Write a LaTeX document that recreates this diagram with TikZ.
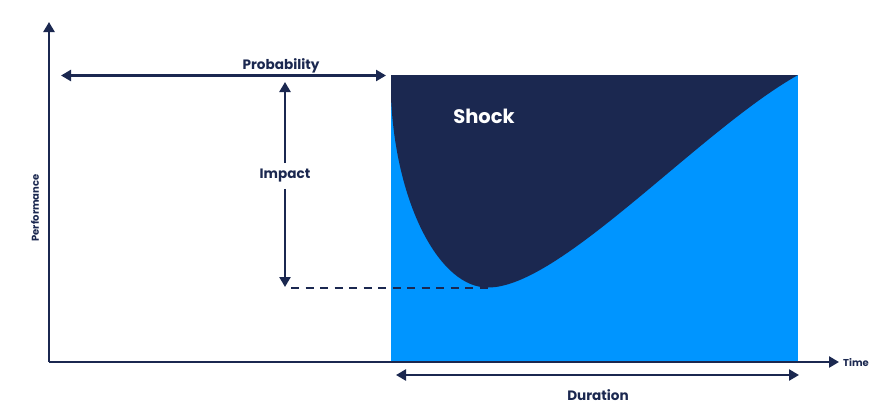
\documentclass[tikz,border=0pt]{standalone}
\usepackage{fontspec}
\setmainfont{Poppins}
\usetikzlibrary{arrows.meta}
\definecolor{navy}{RGB}{27,40,80}
\definecolor{skyblue}{RGB}{0,149,255}
\tikzset{
  axisline/.style={draw=navy, line width=2.6pt, -{Triangle[length=10pt,width=11pt]}},
  dimline/.style={draw=navy, line width=2.4pt, -{Triangle[length=10pt,width=11pt]}},
  dimboth/.style={draw=navy, line width=2.4pt, {Triangle[length=10pt,width=11pt]}-{Triangle[length=10pt,width=11pt]}},
  lbl/.style={text=navy, font=\bfseries\fontsize{13.6}{16}\selectfont, inner sep=0pt},
  smalllbl/.style={text=navy, font=\bfseries\fontsize{10}{12}\selectfont, inner sep=0pt},
}
\begin{document}
\begin{tikzpicture}[x=1pt,y=-1pt]
\useasboundingbox (0,0) rectangle (892,418);
% named points
\coordinate (origin) at (49,362);
\coordinate (ytop) at (49,22);
\coordinate (xend) at (839,362);
\coordinate (pl) at (61,75.5);
\coordinate (pr) at (386,75.5);
\coordinate (imptop) at (285,82);
\coordinate (impbot) at (285,287);
\coordinate (dashstart) at (291,287.5);
\coordinate (curvemin) at (488,287.5);
\coordinate (dl) at (396,375);
\coordinate (dr) at (799,375);
% shaded area
\fill[skyblue] (391,75) rectangle (798,362);
\fill[navy] (391,75) -- (391,98)
  .. controls (396,205) and (440,288) .. (curvemin)
  .. controls (560,288) and (700,130) .. (798,75) -- cycle;
% dashed line
\draw[navy, line width=2pt, dash pattern=on 8pt off 6.5pt] (dashstart) -- (curvemin);
% axes
\draw[axisline] (origin) -- (ytop);
\draw[axisline] (origin) -- (xend);
% labels
\node[smalllbl, rotate=90] (perf) at (35,208) {Performance};
\node[smalllbl, anchor=west] (time) at (843,363) {Time};
\node[lbl] (prob) at (281,65.5) {Probability};
\node[lbl] (imp) at (285,176) {Impact};
\node[lbl] (dur) at (598,395) {Duration};
\node[text=white, font=\bfseries\fontsize{19.5}{22}\selectfont, inner sep=0pt] (shock) at (484,116) {Shock};
% dimension arrows
\draw[dimboth] (pl) -- (pr);
\draw[dimline] ([yshift=6pt]imp.north) -- (imptop);
\draw[dimline] ([yshift=-6pt]imp.south) -- (impbot);
\draw[dimboth] (dl) -- (dr);
\end{tikzpicture}
\end{document}
